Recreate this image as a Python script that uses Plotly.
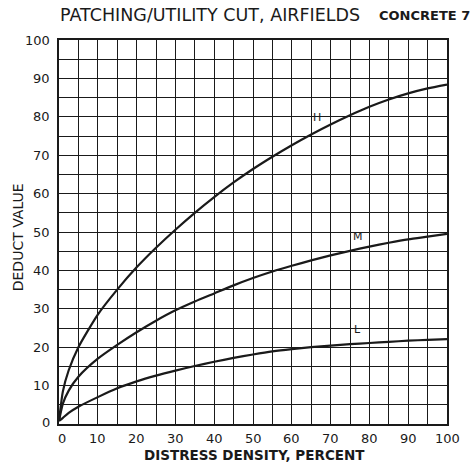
import plotly.graph_objects as go

# Distress density (percent) sampled along each curve
density = [0, 1, 2.5, 5, 10, 15, 20, 25, 30, 35, 40, 45, 50,
           55, 60, 65, 70, 75, 80, 85, 90, 95, 100]

# Deduct values for each severity level
deduct_high = [0.8, 8.5, 14, 20, 28.5, 35, 40.8, 45.9, 50.6, 55, 59.1, 62.9, 66.4,
               69.6, 72.6, 75.4, 78, 80.4, 82.6, 84.5, 86.1, 87.4, 88.4]
deduct_medium = [0.8, 5.3, 8.7, 12.3, 17, 20.6, 23.9, 26.9, 29.6, 31.9, 34.0, 36.1, 38,
                 39.7, 41.2, 42.6, 43.9, 45.1, 46.2, 47.2, 48.1, 48.8, 49.5]
deduct_low = [0.8, 1.6, 2.9, 4.5, 7, 9.3, 11.1, 12.6, 13.9, 15.1, 16.2, 17.2, 18.1,
              18.9, 19.5, 20.0, 20.4, 20.8, 21.1, 21.4, 21.7, 21.9, 22.1]

# Curve labels and where they sit
curve_labels = ["H", "M", "L"]
label_x = [66.5, 77, 77]
label_y = [77.5, 46.5, 22.5]

x_ticks = list(range(0, 101, 10))
y_ticks = list(range(0, 101, 10))

FONT = "DejaVu Sans"
INK = "#1a1a1a"

fig = go.Figure()

for ys in (deduct_high, deduct_medium, deduct_low):
    fig.add_trace(go.Scatter(
        x=density, y=ys, mode="lines",
        line=dict(color=INK, width=2.2, shape="spline", smoothing=0.6),
        hoverinfo="skip", showlegend=False,
    ))

for txt, lx, ly in zip(curve_labels, label_x, label_y):
    fig.add_annotation(x=lx, y=ly, text=txt, showarrow=False,
                       font=dict(family=FONT, size=11, color=INK),
                       xanchor="center", yanchor="bottom")

axis_common = dict(
    range=[0, 100], showgrid=True, gridcolor=INK, gridwidth=1.2,
    dtick=5, showline=True, linecolor=INK, linewidth=1.6, mirror=True,
    zeroline=False, ticks="", showticklabels=False,
)
fig.update_xaxes(**axis_common)
fig.update_yaxes(**axis_common)

# Tick labels drawn as annotations so only every 10 units is labelled
for v in x_ticks:
    fig.add_annotation(x=v, y=0, yref="y", xref="x", text=str(v),
                       showarrow=False, yshift=-14, xshift=3 if v == 0 else 0,
                       font=dict(family=FONT, size=13, color=INK))
for v in y_ticks:
    fig.add_annotation(x=0, y=v, xref="x", yref="y", text=str(v),
                       showarrow=False, xanchor="right", xshift=-7,
                       yshift=2 if v == 0 else 0,
                       font=dict(family=FONT, size=13, color=INK))

fig.add_annotation(x=0.505, y=-0.081, xref="paper", yref="paper",
                   text="<b>DISTRESS DENSITY, PERCENT</b>", showarrow=False,
                   yanchor="middle", xanchor="center",
                   font=dict(family=FONT, size=13.5, color=INK))
fig.add_annotation(x=-0.105, y=0.5, xref="paper", yref="paper",
                   text="DEDUCT VALUE", showarrow=False, textangle=-90,
                   xanchor="center", yanchor="middle", yshift=-5,
                   font=dict(family=FONT, size=14, color=INK))
fig.add_annotation(x=0.389, y=1.065, xref="paper", yref="paper",
                   text="PATCHING/UTILITY CUT, AIRFIELDS", showarrow=False,
                   yanchor="middle", xanchor="center",
                   font=dict(family=FONT, size=17.5, color=INK))
fig.add_annotation(x=1.065, y=1.065, xref="paper", yref="paper",
                   text="<b>CONCRETE 7</b>", showarrow=False,
                   yanchor="middle", xanchor="right",
                   font=dict(family=FONT, size=13, color=INK))

fig.update_layout(
    width=473, height=465,
    margin=dict(l=59, r=26, t=40, b=41),
    paper_bgcolor="white", plot_bgcolor="white",
)

fig.write_html("out.html")
